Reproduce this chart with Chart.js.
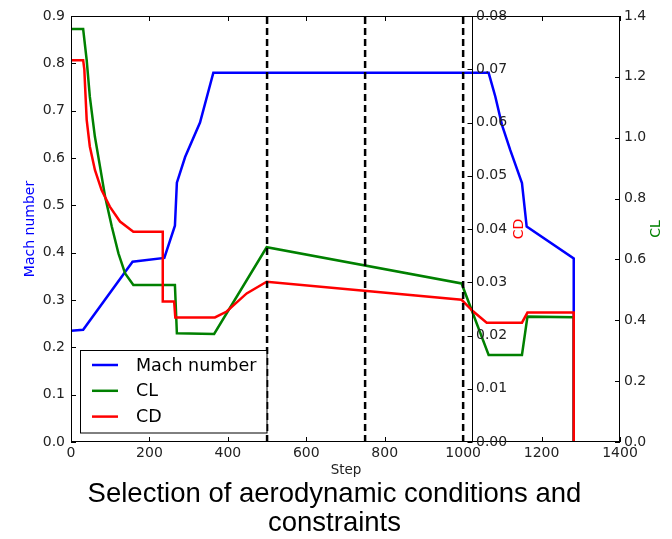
<!DOCTYPE html>
<html>
<head>
<meta charset="utf-8">
<script src="https://cdn.jsdelivr.net/npm/chart.js@4.4.0/dist/chart.umd.min.js"></script>
<style>
  body { margin: 0; background: #fff; }
  #wrap { position: relative; width: 672px; height: 539px; }
  #caption {
    position: absolute; left: 0; top: 478px; width: 669px;
    text-align: center; color: #000;
    font: 27.5px/29px "Liberation Sans", Arial, sans-serif;
  }
</style>
</head>
<body>
<div id="wrap">
  <canvas id="aeroChart" width="672" height="539"></canvas>
  <div id="caption">Selection of aerodynamic conditions and<br>constraints</div>
</div>
<script>
// Dados
const machSteps  = [0, 31, 157, 238, 265, 270, 291, 329, 363, 1065, 1082, 1099, 1120, 1150, 1162, 1282, 1282];
const machValues = [0.235, 0.237, 0.381, 0.389, 0.457, 0.548, 0.602, 0.675, 0.780, 0.780, 0.730, 0.670, 0.617, 0.547, 0.455, 0.388, 0.0];

const clSteps  = [0, 31, 40, 48, 61, 74, 87, 104, 121, 138, 159, 265, 270, 365, 499, 996, 1065, 1150, 1164, 1282, 1282];
const clValues = [1.357, 1.357, 1.255, 1.135, 1.003, 0.905, 0.806, 0.708, 0.620, 0.554, 0.516, 0.516, 0.357, 0.355, 0.640, 0.521, 0.286, 0.286, 0.412, 0.410, 0.0];

const cdSteps  = [0, 31, 34, 36, 40, 48, 61, 78, 99, 125, 159, 234, 234, 263, 266, 367, 397, 448, 499, 996, 1026, 1060, 1150, 1164, 1282, 1282];
const cdValues = [0.0717, 0.0717, 0.0700, 0.0667, 0.0605, 0.0555, 0.0511, 0.0473, 0.0442, 0.0414, 0.0395, 0.0395, 0.0264, 0.0264, 0.0234, 0.0234, 0.0245, 0.0279, 0.0301, 0.0267, 0.0245, 0.0224, 0.0224, 0.0243, 0.0243, 0.0];

const dashedSteps = [500, 750, 1000];
const cdTickValues = [0, 0.01, 0.02, 0.03, 0.04, 0.05, 0.06, 0.07, 0.08];
const cdAxisFraction = 0.73; // eixo CD deslocado dentro do gráfico

const toPoints = (xs, ys) => xs.map((x, i) => ({ x: x, y: ys[i] }));

Chart.defaults.font.family = 'DejaVu Sans';
Chart.defaults.color = '#222';

const seriesStyle = { borderWidth: 2.5, pointRadius: 0, tension: 0, fill: false };

const datasets = [
  { label: 'Mach number', data: toPoints(machSteps, machValues), borderColor: '#0000ff', yAxisID: 'y', order: 2, ...seriesStyle },
  { label: 'CL', data: toPoints(clSteps, clValues), borderColor: '#008000', yAxisID: 'yCL', order: 1, ...seriesStyle },
  { label: 'CD', data: toPoints(cdSteps, cdValues), borderColor: '#ff0000', yAxisID: 'yCD', order: 0, ...seriesStyle }
];
dashedSteps.forEach(s => {
  datasets.push({
    label: '', data: [{ x: s, y: 0 }, { x: s, y: 0.9 }], yAxisID: 'y',
    borderColor: '#000', borderWidth: 2.5, borderDash: [7, 4], pointRadius: 0, order: -1, isGuide: true
  });
});

const tickFont = { size: 14 };

// eixos extras, ticks para dentro, legenda e títulos
const decorPlugin = {
  id: 'decor',
  afterDatasetsDraw(chart) {
    const { ctx, chartArea: a, scales } = chart;
    ctx.save();
    ctx.strokeStyle = '#000';
    ctx.lineWidth = 1;
    ctx.strokeRect(a.left + 0.5, a.top + 0.5, a.right - a.left - 1, a.bottom - a.top - 1);

    ctx.beginPath();
    scales.y.ticks.forEach(t => {
      const y = Math.round(scales.y.getPixelForValue(t.value)) + 0.5;
      ctx.moveTo(a.left, y); ctx.lineTo(a.left + 5, y);
    });
    scales.yCL.ticks.forEach(t => {
      const y = Math.round(scales.yCL.getPixelForValue(t.value)) + 0.5;
      ctx.moveTo(a.right, y); ctx.lineTo(a.right - 5, y);
    });
    scales.x.ticks.forEach(t => {
      const x = Math.round(scales.x.getPixelForValue(t.value)) + 0.5;
      ctx.moveTo(x, a.top); ctx.lineTo(x, a.top + 5);
      ctx.moveTo(x, a.bottom); ctx.lineTo(x, a.bottom - 5);
    });
    // eixo CD
    const cx = Math.round(a.left + cdAxisFraction * (a.right - a.left)) + 0.5;
    ctx.moveTo(cx, a.top); ctx.lineTo(cx, a.bottom);
    cdTickValues.forEach(v => {
      const y = Math.round(scales.yCD.getPixelForValue(v)) + 0.5;
      ctx.moveTo(cx, y); ctx.lineTo(cx - 5, y);
    });
    ctx.stroke();

    ctx.fillStyle = '#222';
    ctx.font = '14px "DejaVu Sans"';
    ctx.textAlign = 'left';
    ctx.textBaseline = 'middle';
    cdTickValues.forEach(v => {
      ctx.fillText(v.toFixed(2), cx + 3.5, scales.yCD.getPixelForValue(v));
    });

    // legenda
    const lx = 80, ly = 350, lw = 186.5, lh = 82.5;
    ctx.fillStyle = '#fff';
    ctx.fillRect(lx, ly, lw, lh);
    ctx.strokeStyle = '#000';
    ctx.strokeRect(lx + 0.5, ly + 0.5, lw, lh);
    ctx.font = '17.5px "DejaVu Sans"';
    chart.data.datasets.filter(d => !d.isGuide).forEach((d, i) => {
      const y = 365 + i * 25.8;
      ctx.strokeStyle = d.borderColor;
      ctx.lineWidth = 2.5;
      ctx.beginPath(); ctx.moveTo(92, y); ctx.lineTo(118, y); ctx.stroke();
      ctx.fillStyle = '#000';
      ctx.fillText(d.label, 136, y + 1);
    });
    ctx.restore();
  },
  afterDraw(chart) {
    const { ctx } = chart;
    ctx.save();
    ctx.textAlign = 'center';
    ctx.textBaseline = 'middle';
    ctx.font = '14px "DejaVu Sans"';
    const vertical = (txt, x, y, color) => {
      ctx.save(); ctx.translate(x, y); ctx.rotate(-Math.PI / 2);
      ctx.fillStyle = color; ctx.fillText(txt, 0, 0); ctx.restore();
    };
    vertical('Mach number', 30, 229, '#0000ff');
    vertical('CD', 519, 229, '#ff0000');
    vertical('CL', 656.5, 229, '#008000');
    ctx.font = '13.5px "DejaVu Sans"';
    ctx.fillStyle = '#222';
    ctx.fillText('Step', 346, 470);
    ctx.restore();
  }
};

const ctx = document.getElementById('aeroChart').getContext('2d');
const aeroChart = new Chart(ctx, {
  type: 'line',
  data: { datasets: datasets },
  options: {
    responsive: false,
    animation: false,
    devicePixelRatio: 1,
    layout: { padding: { top: 16, left: 0, right: 0, bottom: 0 } },
    plugins: { legend: { display: false }, tooltip: { enabled: false } },
    scales: {
      x: {
        type: 'linear', min: 0, max: 1400,
        ticks: { stepSize: 200, font: tickFont, padding: 3, autoSkip: false, maxRotation: 0, callback: v => String(v) },
        grid: { display: false, drawTicks: false },
        border: { display: false },
        afterFit: s => { s.height = 97; }
      },
      y: {
        position: 'left', min: 0, max: 0.9,
        ticks: { stepSize: 0.1, font: tickFont, padding: 6, callback: v => v.toFixed(1) },
        grid: { display: false, drawTicks: false },
        border: { display: false },
        afterFit: s => { s.width = 71; }
      },
      yCL: {
        position: 'right', min: 0, max: 1.4,
        ticks: { stepSize: 0.2, font: tickFont, padding: 4, callback: v => v.toFixed(1) },
        grid: { display: false, drawTicks: false },
        border: { display: false },
        afterFit: s => { s.width = 52; }
      },
      yCD: { display: false, min: 0, max: 0.08 }
    }
  },
  plugins: [decorPlugin]
});
</script>
</body>
</html>
